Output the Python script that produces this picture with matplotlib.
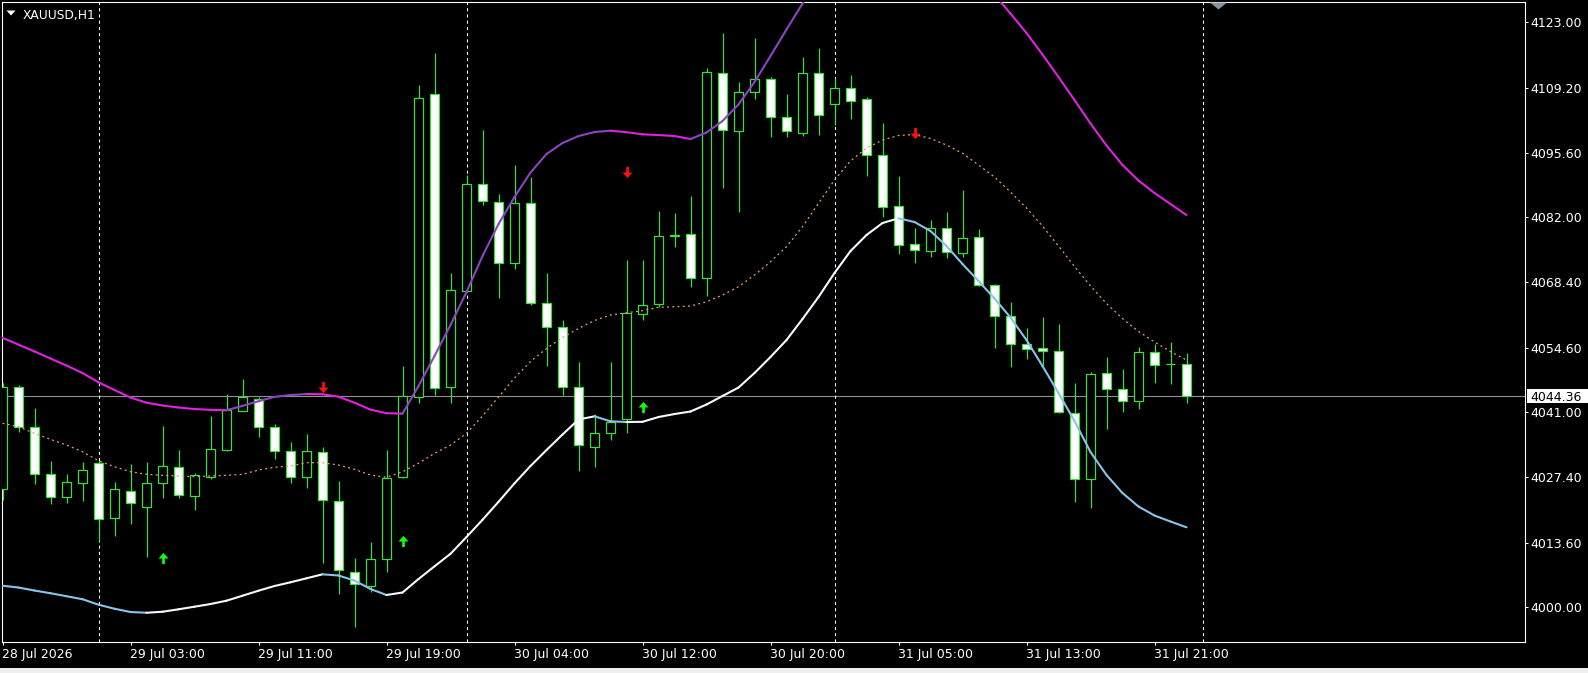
import numpy as np
import matplotlib
matplotlib.use('Agg')
import matplotlib.pyplot as plt
import matplotlib.transforms as mtransforms
from matplotlib.collections import LineCollection
from matplotlib.patches import Polygon, Rectangle
from matplotlib.path import Path

W, H = 1588, 673

symbol = 'XAUUSD,H1'

opens = [4024.81, 4046.38, 4037.97, 4027.96, 4023.26, 4026.20, 4030.28, 4018.71, 4024.52, 4021.15,
         4026.20, 4029.43, 4023.46, 4027.46, 4033.07, 4041.33, 4043.86, 4037.84, 4032.97, 4027.46,
         4032.71, 4022.41, 4007.48, 4004.54, 4010.09, 4027.46, 4044.28, 4107.86, 4046.25, 4066.57,
         4088.94, 4085.15, 4072.33, 4084.94, 4063.92, 4059.00, 4046.25, 4033.76, 4036.58, 4039.53,
         4061.60, 4063.71, 4078.07, 4078.42, 4069.17, 4112.28, 4100.21, 4108.28, 4111.02, 4103.15,
         4099.79, 4112.28, 4105.76, 4109.12, 4106.81, 4095.04, 4084.44, 4076.32, 4074.92, 4079.82,
         4074.56, 4077.79, 4067.76, 4061.25, 4055.30, 4054.46, 4053.82, 4040.79, 4026.91, 4049.20,
         4045.84, 4043.44, 4053.61, 4051.15, 4051.09]
highs = [4047.10, 4046.74, 4041.84, 4030.76, 4027.96, 4030.49, 4030.97, 4026.41, 4030.07, 4030.49,
         4038.12, 4033.07, 4028.24, 4040.22, 4044.78, 4047.99, 4044.28, 4038.54, 4034.69, 4036.37,
         4033.64, 4026.55, 4010.30, 4013.67, 4033.07, 4050.73, 4109.82, 4116.48, 4070.23, 4090.89,
         4100.36, 4086.83, 4093.00, 4090.41, 4070.23, 4060.41, 4051.51, 4040.64, 4051.51, 4073.02,
         4073.02, 4083.39, 4082.84, 4086.48, 4113.33, 4120.69, 4110.51, 4119.64, 4111.56, 4107.86,
         4115.65, 4117.53, 4111.35, 4111.92, 4107.36, 4101.76, 4090.68, 4079.69, 4081.43, 4083.11,
         4087.74, 4079.48, 4067.91, 4064.13, 4058.66, 4060.97, 4059.56, 4047.10, 4049.41, 4052.56,
         4050.10, 4054.79, 4055.30, 4055.72, 4053.40]
lows = [4022.50, 4036.92, 4025.86, 4021.65, 4021.99, 4022.35, 4014.00, 4015.05, 4017.51, 4010.51,
        4023.04, 4023.04, 4020.45, 4026.91, 4032.93, 4041.20, 4035.74, 4031.24, 4026.07, 4025.02,
        4009.25, 4002.80, 3995.92, 4003.28, 4007.48, 4027.25, 4042.89, 4044.64, 4042.89, 4066.30,
        4084.59, 4064.97, 4071.06, 4063.50, 4050.80, 4044.64, 4028.72, 4029.56, 4035.18, 4036.71,
        4060.41, 4063.20, 4075.82, 4067.28, 4065.52, 4088.10, 4083.18, 4106.81, 4098.82, 4098.82,
        4099.09, 4099.30, 4101.41, 4102.61, 4090.75, 4082.00, 4074.28, 4072.33, 4073.59, 4073.38,
        4073.59, 4067.50, 4054.46, 4050.46, 4052.14, 4050.80, 4040.79, 4022.20, 4020.94, 4037.42,
        4041.13, 4041.63, 4047.10, 4046.89, 4042.96]
closes = [4046.38, 4037.97, 4027.96, 4023.19, 4026.41, 4028.81, 4018.50, 4024.81, 4021.87, 4026.07,
          4029.71, 4023.51, 4027.82, 4033.22, 4041.48, 4044.21, 4037.84, 4032.80, 4027.50, 4032.80,
          4022.56, 4007.84, 4004.83, 4010.16, 4027.25, 4044.43, 4107.02, 4046.04, 4066.72, 4088.94,
          4085.49, 4072.33, 4085.07, 4063.92, 4058.87, 4046.25, 4034.12, 4036.58, 4038.89, 4061.81,
          4063.56, 4078.07, 4078.20, 4069.17, 4112.49, 4100.36, 4108.28, 4111.02, 4103.15, 4100.08,
          4112.28, 4103.45, 4109.12, 4106.52, 4095.10, 4084.23, 4076.18, 4075.23, 4079.82, 4074.77,
          4077.58, 4067.76, 4061.25, 4055.30, 4054.31, 4053.82, 4041.00, 4026.91, 4048.99, 4045.84,
          4043.44, 4053.61, 4050.88, 4051.25, 4044.36]

upper_band = [4056.66, 4055.23, 4053.80, 4052.31, 4050.84, 4049.26, 4047.31, 4045.69, 4044.11, 4043.02,
              4042.43, 4042.01, 4041.69, 4041.53, 4041.44, 4042.35, 4043.33, 4044.24, 4044.64, 4044.85,
              4044.80, 4044.28, 4043.02, 4041.57, 4040.81, 4040.73, 4046.53, 4052.84, 4059.36, 4066.29,
              4073.86, 4080.59, 4086.27, 4091.42, 4095.31, 4097.62, 4099.09, 4099.94, 4100.21, 4099.90,
              4099.45, 4099.30, 4099.09, 4098.46, 4099.83, 4102.25, 4105.72, 4110.45, 4115.92, 4121.49,
              4126.95, 4131.90, 4136.00, 4139.30, 4141.70, 4143.20, 4143.90, 4143.60, 4141.90, 4139.50,
              4136.40, 4132.80, 4128.80, 4124.85, 4120.75, 4116.23, 4111.50, 4106.66, 4101.72, 4097.10,
              4093.00, 4089.74, 4087.11, 4084.80, 4082.48]
middle_line = [4038.69, 4037.97, 4036.58, 4035.32, 4034.12, 4032.72, 4030.82, 4029.56, 4028.51, 4027.96,
               4027.75, 4027.61, 4027.46, 4027.61, 4027.75, 4027.96, 4028.87, 4029.44, 4029.71, 4030.40,
               4030.40, 4029.92, 4029.01, 4027.82, 4027.33, 4028.51, 4030.28, 4032.38, 4034.12, 4036.58,
               4040.22, 4044.22, 4048.21, 4051.68, 4054.41, 4056.73, 4058.62, 4060.30, 4061.46, 4061.94,
               4062.36, 4063.08, 4063.20, 4063.35, 4064.25, 4065.66, 4067.41, 4069.87, 4072.66, 4075.82,
               4080.02, 4084.94, 4089.84, 4093.84, 4096.57, 4098.25, 4099.20, 4099.41, 4098.57, 4097.20,
               4095.46, 4093.00, 4090.47, 4087.32, 4083.96, 4080.17, 4075.97, 4071.66, 4067.56, 4063.88,
               4060.72, 4057.99, 4055.78, 4053.78, 4052.00]
lower_band = [4004.54, 4004.16, 4003.53, 4002.96, 4002.33, 4001.70, 4000.55, 3999.70, 3999.01, 3998.86,
              3999.07, 3999.58, 4000.13, 4000.69, 4001.39, 4002.44, 4003.49, 4004.48, 4005.26, 4006.10,
              4006.94, 4006.69, 4005.63, 4003.85, 4002.59, 4003.11, 4005.95, 4008.62, 4011.25, 4014.78,
              4018.40, 4022.18, 4026.07, 4029.71, 4033.07, 4036.33, 4039.49, 4040.16, 4039.11, 4038.96,
              4039.00, 4040.01, 4040.64, 4041.17, 4042.64, 4044.43, 4046.21, 4049.26, 4052.63, 4056.20,
              4060.62, 4065.24, 4070.29, 4074.91, 4078.28, 4080.80, 4081.79, 4081.01, 4079.12, 4075.97,
              4072.18, 4068.61, 4064.93, 4060.93, 4056.20, 4050.73, 4045.06, 4039.17, 4032.65, 4027.82,
              4024.03, 4021.19, 4019.30, 4018.04, 4016.82]

tick_labels = ['28 Jul 2026', '29 Jul 03:00', '29 Jul 11:00', '29 Jul 19:00', '30 Jul 04:00',
               '30 Jul 12:00', '30 Jul 20:00', '31 Jul 05:00', '31 Jul 13:00', '31 Jul 21:00']
day_starts = [6, 29, 52, 75]

buy_bars = [10, 25, 40]
buy_prices = [4010.30, 4014.00, 4042.05]
sell_bars = [20, 39, 57]
sell_prices = [4046.40, 4091.60, 4099.66]

price_ticks = [4000.00, 4013.60, 4027.40, 4041.00, 4054.60, 4068.40, 4082.00, 4095.60, 4109.20, 4123.00]
bid = 4044.36

CANDLE = '#3fdc3f'
FONT = 9


def frac(x, y):
    # pixel position (from top left) to figure fraction
    return x / W, 1 - y / H


fig = plt.figure(figsize=(W / 100, H / 100), dpi=100, facecolor='black')
ax = fig.add_axes([1.7 / W, (H - 641.7) / H, (1525.3 - 1.7) / W, (641.7 - 2.3) / H])
ax.set_facecolor('black')

x = np.arange(len(opens))
o, hi, lo, c = (np.array(v) for v in (opens, highs, lows, closes))

# candles
ax.vlines(x, lo, hi, color=CANDLE, lw=0.9, zorder=3)
bear = c < o
ax.bar(x, np.abs(c - o), bottom=np.minimum(o, c), width=0.6,
       color=np.where(bear, 'white', 'black'), edgecolor=CANDLE, linewidth=0.9, zorder=4)


def band(values, rise, fall):
    v = np.asarray(values)
    pts = np.column_stack([x, v])
    segs = np.stack([pts[:-1], pts[1:]], axis=1)
    cols = [rise if d > 0 else fall for d in np.diff(v)]
    ax.add_collection(LineCollection(segs, colors=cols, linewidths=1.5,
                                     capstyle='round', zorder=5))


band(upper_band, '#8a45c0', '#e022e0')
band(lower_band, '#f4f8ff', '#88c4ea')
ax.plot(x, middle_line, color='#e0a064', lw=0.9, dashes=(1.6, 2.6), zorder=5)

# day separators and bid line
for d in day_starts:
    ax.axvline(d, color='white', lw=0.75, dashes=(3, 3), zorder=2)
ax.axhline(bid, color='#909090', lw=0.8, zorder=1.5)

# signal arrows
down = Path([(-0.12, 0.5), (0.12, 0.5), (0.12, 0.0), (0.45, 0.0), (0, -0.5),
             (-0.45, 0.0), (-0.12, 0.0), (-0.12, 0.5)])
up = Path([(px, -py) for px, py in down.vertices])
ax.plot(sell_bars, sell_prices, ls='none', marker=down, ms=8, color='#ff1010',
        mec='none', zorder=6)
ax.plot(buy_bars, buy_prices, ls='none', marker=up, ms=8, color='#10ff10',
        mec='none', zorder=6)

ax.set_xlim(-0.05, 95.175)
ax.set_ylim(3992.77, 4127.21)

ax.set_xticks(range(0, len(x), 8), tick_labels, ha='left')
ax.yaxis.tick_right()
ax.set_yticks(price_ticks, [f'{p:.2f}' for p in price_ticks])
ax.tick_params(colors='white', labelsize=FONT, length=2.2, width=0.75, direction='out')
ax.tick_params(axis='x', pad=2.2)
ax.tick_params(axis='y', pad=1.2)
for s in ax.spines.values():
    s.set_color('white')
    s.set_linewidth(0.8)

# bid price box on the price scale
blend = mtransforms.blended_transform_factory(fig.transFigure, ax.transData)
box_h = 14 / 4.756
fig.add_artist(Rectangle((1527 / W, bid - box_h / 2), 61 / W, box_h, transform=blend,
                         facecolor='white', edgecolor='none', zorder=10))
fig.add_artist(plt.Text(1530 / W, bid, f'{bid:.2f}', transform=blend, color='black',
                        fontsize=FONT, va='center_baseline', ha='left', zorder=11))

# symbol caption
fig.add_artist(Polygon([frac(6.5, 10.5), frac(15.5, 10.5), frac(11, 15.5)],
                       closed=True, transform=fig.transFigure, facecolor='white',
                       edgecolor='none'))
fig.text(*frac(22.7, 19), symbol, color='white', fontsize=8.8, va='baseline', ha='left')

# chart shift marker
fig.add_artist(Polygon([frac(1210, 2.5), frac(1227, 2.5), frac(1218.5, 9.5)],
                       closed=True, transform=fig.transFigure, facecolor='#8a929c',
                       edgecolor='none'))

# light status strip at the bottom
fig.add_artist(Rectangle(frac(0, H), 1, 5 / H, transform=fig.transFigure,
                         facecolor='#f0f0f0', edgecolor='none'))

fig.savefig('out.png', dpi=100, facecolor='black')
